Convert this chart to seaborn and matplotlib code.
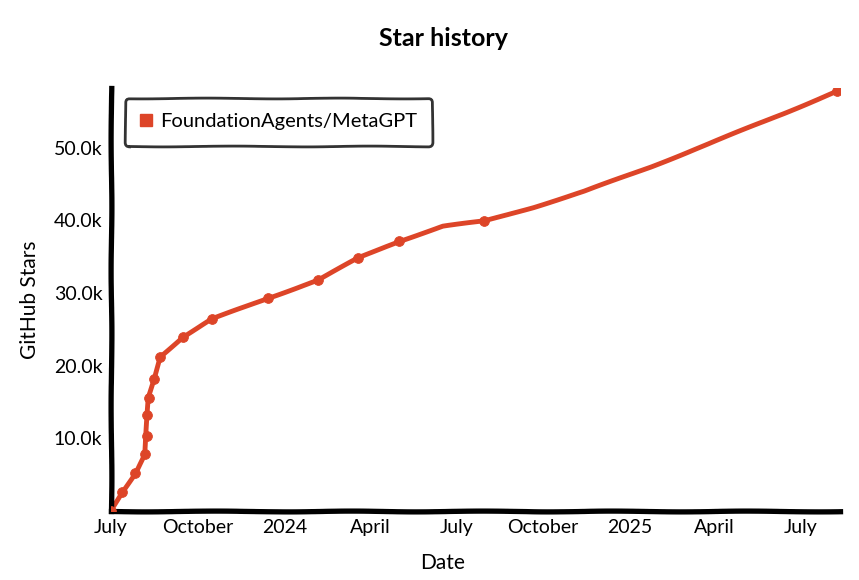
import matplotlib
matplotlib.use("Agg")
import matplotlib.pyplot as plt
from matplotlib.lines import Line2D
from matplotlib.ticker import FuncFormatter
import seaborn as sns
import pandas as pd

# Dữ liệu
dates = [
    "2023-07-01", "2023-07-13", "2023-07-27", "2023-08-06", "2023-08-08",
    "2023-08-08", "2023-08-10", "2023-08-16", "2023-08-22", "2023-09-15",
    "2023-10-16", "2023-12-15", "2024-02-06", "2024-03-19", "2024-05-01",
    "2024-06-17", "2024-07-31", "2024-09-21", "2024-11-14", "2025-01-24",
    "2025-03-25", "2025-06-13", "2025-08-09",
]
stars = [
    0, 2600, 5200, 7800, 10300,
    13200, 15600, 18200, 21200, 23900,
    26400, 29300, 31800, 34800, 37100,
    39200, 39900, 41800, 44000, 47400,
    50500, 54700, 57800,
]
is_sample = [
    True, True, True, True, True,
    True, True, True, True, True,
    True, True, True, True, True,
    False, True, False, False, False,
    False, False, True,
]
repo_name = "FoundationAgents/MetaGPT"
x_ticks = ["2023-07-01", "2023-10-01", "2024-01-01", "2024-04-01", "2024-07-01",
           "2024-10-01", "2025-01-01", "2025-04-01", "2025-07-01"]
x_tick_labels = ["July", "October", "2024", "April", "July",
                 "October", "2025", "April", "July"]
y_ticks = [10000, 20000, 30000, 40000, 50000]

LINE_COLOR = "#dd4528"

df = pd.DataFrame({"date": pd.to_datetime(dates), "stars": stars, "sample": is_sample})

sns.set_style("white")
plt.xkcd(scale=0.4, length=150, randomness=2)
plt.rcParams["path.effects"] = []
plt.rcParams["font.family"] = ["Lato", "DejaVu Sans"]
plt.rcParams["text.color"] = "black"
plt.rcParams["axes.labelcolor"] = "black"
plt.rcParams["xtick.color"] = "black"
plt.rcParams["ytick.color"] = "black"

fig = plt.figure(figsize=(8.59, 5.80), dpi=100)
ax = fig.add_axes([0.129, 0.119, 0.849, 0.729])

sns.lineplot(data=df, x="date", y="stars", color=LINE_COLOR, linewidth=3.5, ax=ax)
sns.scatterplot(data=df[df["sample"]], x="date", y="stars", color=LINE_COLOR,
                s=50, edgecolor=LINE_COLOR, ax=ax, legend=False, zorder=3)

ax.set_xlim(pd.Timestamp("2023-07-01"), pd.Timestamp("2025-08-12"))
ax.set_ylim(0, 58200)
ax.set_xticks(pd.to_datetime(x_ticks))
ax.set_xticklabels(x_tick_labels)
ax.set_yticks(y_ticks)
ax.yaxis.set_major_formatter(FuncFormatter(lambda v, p: f"{v / 1000:.1f}k"))
ax.tick_params(axis="both", length=0, labelsize=14, pad=6)

for s in ["top", "right"]:
    ax.spines[s].set_visible(False)
for s in ["left", "bottom"]:
    ax.spines[s].set_linewidth(3.8)
    ax.spines[s].set_color("black")

ax.set_xlabel("Date", fontsize=15)
ax.set_ylabel("GitHub Stars", fontsize=15)
ax.xaxis.set_label_coords(0.455, -0.1)
ax.yaxis.set_label_coords(-0.097, 0.5)

fig.text(0.516, 0.934, "Star history", ha="center", va="center",
         fontsize=18, fontweight="bold")

handle = Line2D([], [], linestyle="none", marker="s", markersize=8,
                color=LINE_COLOR)
leg = ax.legend([handle], [repo_name], loc="upper left",
                bbox_to_anchor=(0.005, 1.0), fontsize=14.5,
                handlelength=0.6, handletextpad=0.4, frameon=True, fancybox=True,
                borderpad=0.75, borderaxespad=0.5)
leg.get_frame().set_edgecolor("black")
leg.get_frame().set_linewidth(2)

fig.savefig("out.png", dpi=100)
